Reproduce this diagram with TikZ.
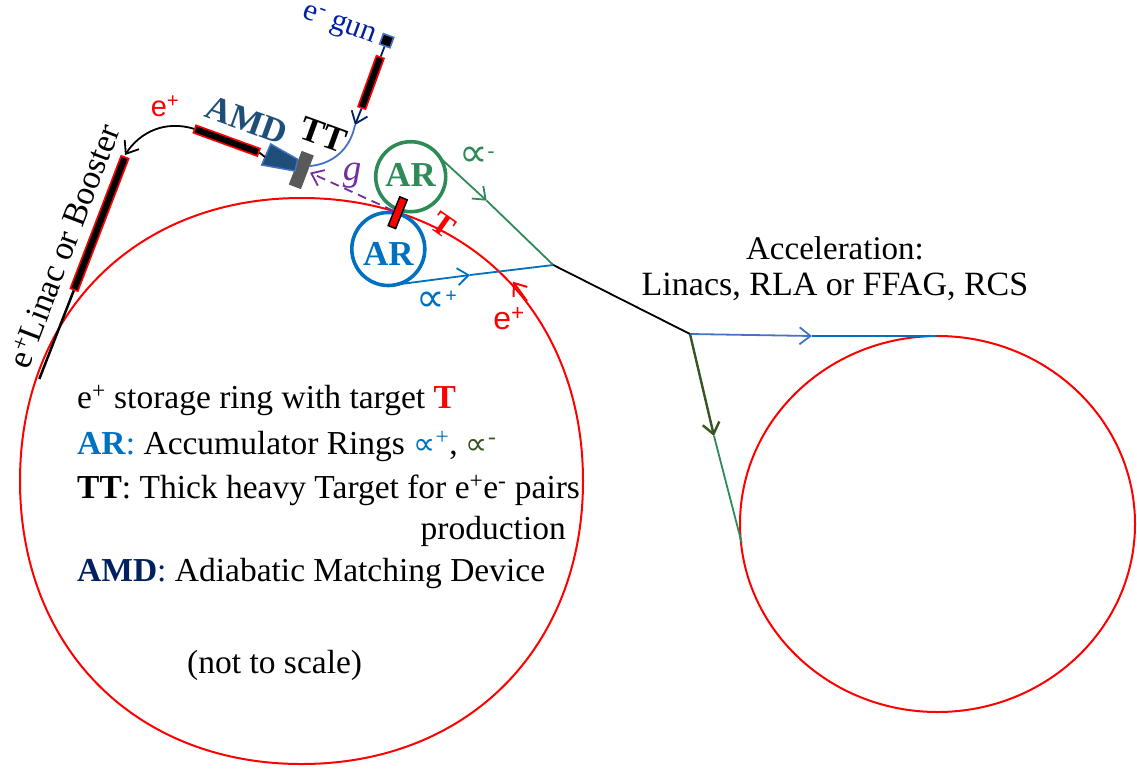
\documentclass[tikz,border=0pt]{standalone}
\usepackage{fontspec}
\setmainfont{Liberation Serif}
\newfontfamily\labelsans{Liberation Sans}
\newfontfamily\propfont{DejaVu Sans}
\usetikzlibrary{arrows.meta}
\definecolor{ringred}{HTML}{FF0000}
\definecolor{arblue}{HTML}{0070C0}
\definecolor{argreen}{HTML}{2E8B57}
\definecolor{darkgreen}{HTML}{375623}
\definecolor{amdblue}{HTML}{1F4E79}
\definecolor{edgeblue}{HTML}{4472C4}
\definecolor{navy}{HTML}{002060}
\definecolor{gunblue}{HTML}{00209F}
\definecolor{gammapurple}{HTML}{7030A0}
\newcommand{\propsym}[1]{{\fontsize{#1}{#1}\selectfont\propfont ∝}}
\tikzset{
    >={Straight Barb[length=11pt,width=17pt]},
    body/.style={font=\fontsize{33.5}{33.5}\selectfont, inner sep=0pt, anchor=base west},
    boldlabel/.style={font=\fontsize{35}{35}\selectfont\bfseries, inner sep=0pt},
    linacbar/.style={draw=ringred, fill=black, line width=1.6pt, minimum height=8pt, inner sep=0pt},
    ringline/.style={ringred, line width=2pt},
    arring/.style={circle, line width=3.6pt, inner sep=0pt, font=\fontsize{35}{35}\selectfont\bfseries},
    beamline/.style={line width=1.8pt},
}
\begin{document}
\begin{tikzpicture}[x=1pt,y=-1pt]
    \useasboundingbox (0,0) rectangle (1137,769);

    % rings
    \draw[ringline] (301.5,198) .. controls (467.5,198) and (583,314) .. (583,481)
        .. controls (583,648) and (467.5,764) .. (301.5,764)
        .. controls (135.5,764) and (20,648) .. (20,481)
        .. controls (20,314) and (135.5,198) .. (301.5,198) -- cycle;
    \draw[ringline] (937.5,524) ellipse (197.5 and 188);

    % linacs
    \node[draw=edgeblue, fill=black, line width=1.6pt, minimum size=11pt, inner sep=0pt, rotate=-20] (gun) at (386.7,40.7) {};
    \node[linacbar, minimum width=54pt, rotate=70] (linacA) at (371,82.5) {};
    \node[linacbar, minimum width=68pt, rotate=-20] (linacB) at (226.7,140.7) {};
    \node[linacbar, minimum width=142pt, rotate=69] (linacC) at (99.5,223.5) {};
    \draw[navy, beamline] (gun) -- (linacA);

    % targets
    \node[fill=black!65, minimum width=36pt, minimum height=13pt, inner sep=0pt, rotate=69] (thick) at (301.3,170) {};
    \draw[fill=amdblue, draw=edgeblue, line width=1.5pt] (270.7,144) -- (297.7,159.3) -- (295,171) -- (261.7,165) -- cycle;
    \draw[black, beamline] (linacB.east) -- (265,157);

    % curved beams
    \coordinate (gunTip) at (355,125);
    \coordinate (thickIn) at (310,166);
    \coordinate (boostTip) at (125,155);
    \draw[navy, beamline, ->] (linacA.west) -- (gunTip);
    \draw[edgeblue, beamline] (gunTip) .. controls (350,150) and (332,164) .. (thickIn);
    \draw[black, line width=1.8pt, ->] (linacB.west) .. controls (165,120) and (140,132) .. (boostTip);
    \coordinate (linacEnd) at (39.3,379);
    \draw[black, line width=2.5pt] (linacC.west) -- (linacEnd);

    % accumulator rings
    \node[arring, draw=argreen, text=argreen, minimum size=70pt] (arGreen) at (410.7,176.7) {\raisebox{2pt}[\height][\depth]{AR}};
    \node[arring, draw=arblue, text=arblue, minimum size=73pt] (arBlue) at (388.3,249) {\raisebox{-5pt}[\height][\depth]{AR}};

    % gamma
    \node[draw=black, fill=ringred, line width=1.5pt, minimum width=31pt, minimum height=8pt, inner sep=0pt, rotate=68] (target) at (397.7,212.7) {};
    \coordinate (thickOut) at (310,172.7);
    \draw[gammapurple, line width=1.8pt, dash pattern=on 9pt off 6pt, ->] (target) -- (thickOut);

    % extracted beams
    \coordinate (greenOut) at (441.7,159.3);
    \coordinate (greenTip) at (486.7,200.7);
    \coordinate (blueOut) at (393.3,285);
    \coordinate (blueTip) at (470,275);
    \coordinate (merge) at (553.3,265);
    \coordinate (split) at (690,334);
    \coordinate (darkTip) at (714,436);
    \coordinate (ringB) at (741.7,543);
    \coordinate (blueRTip) at (812,336);
    \coordinate (ringTop) at (937,336);
    \draw[argreen, beamline, ->] (greenOut) -- (greenTip);
    \draw[argreen, beamline] (greenTip) -- (merge);
    \draw[arblue, beamline, ->] (blueOut) -- (blueTip);
    \draw[arblue, beamline] (blueTip) -- (merge);
    \draw[black, beamline] (merge) -- (split);
    \draw[edgeblue, beamline, ->] (split) -- (blueRTip);
    \draw[arblue, beamline] (blueRTip) -- (ringTop);
    \draw[darkgreen, line width=2.4pt, ->] (split) -- (darkTip);
    \draw[argreen, beamline] (darkTip) -- (ringB);
    \draw[ringred, line width=2pt, ->] (527,301) -- (513,281.7);

    % labels
    \node[font=\fontsize{31}{31}\selectfont, text=gunblue, inner sep=0pt, rotate=-20] (gunLabel) at (339,26) {e\textsuperscript{-} gun};
    \node[font=\fontsize{29}{29}\selectfont\labelsans, text=ringred, inner sep=0pt] (ePlusA) at (165,106) {e\textsuperscript{+}};
    \node[font=\fontsize{32}{32}\selectfont\labelsans, text=ringred, inner sep=0pt] (ePlusB) at (509,319) {e\textsuperscript{+}};
    \node[boldlabel, text=amdblue, rotate=-20] (amdLabel) at (247,120) {AMD};
    \node[boldlabel, text=black, rotate=-20] (ttLabel) at (323,135) {TT};
    \node[font=\fontsize{37}{37}\selectfont\itshape, text=gammapurple, inner sep=0pt] (gammaLabel) at (352,176) {g};
    \node[font=\fontsize{32}{32}\selectfont\bfseries, text=ringred, inner sep=0pt, rotate=-35] (targetLabel) at (443,225) {T};
    \node[font=\fontsize{29}{29}\selectfont, text=argreen, inner sep=0pt] (minusLabel) at (477,157) {\propsym{40}\textsuperscript{\textbf{-}}};
    \node[font=\fontsize{29}{29}\selectfont, text=arblue, inner sep=0pt] (plusLabel) at (437,301) {\propsym{40}\textsuperscript{\textbf{+}}};
    \node[font=\fontsize{34}{34}\selectfont, inner sep=0pt, rotate=69] (boosterLabel) at (64,246) {e\textsuperscript{+}Linac or Booster};
    \node[font=\fontsize{33}{33}\selectfont, inner sep=0pt] (accelA) at (835,248) {Acceleration:};
    \node[font=\fontsize{34}{34}\selectfont, inner sep=0pt] (accelB) at (835,287) {Linacs, RLA or FFAG, RCS};

    % legend
    \node[body] (lineA) at (77,408) {e\textsuperscript{+} storage ring with target \textcolor{ringred}{\textbf{T}}};
    \node[body] (lineB) at (77,454) {\textcolor{arblue}{\textbf{AR}:} Accumulator Rings \textcolor{arblue}{\propsym{31}\textsuperscript{+}}, \textcolor{darkgreen}{\propsym{31}\textsuperscript{-}}};
    \node[body] (lineC) at (77,498) {\textbf{TT}: Thick heavy Target for e\textsuperscript{+}e\textsuperscript{-} pairs};
    \node[body, anchor=base east] (lineD) at (566,539) {production};
    \node[body] (lineE) at (77,581) {\textcolor{navy}{\textbf{AMD}:} Adiabatic Matching Device};
    \node[body] (lineF) at (187,673) {(not to scale)};
\end{tikzpicture}
\end{document}
